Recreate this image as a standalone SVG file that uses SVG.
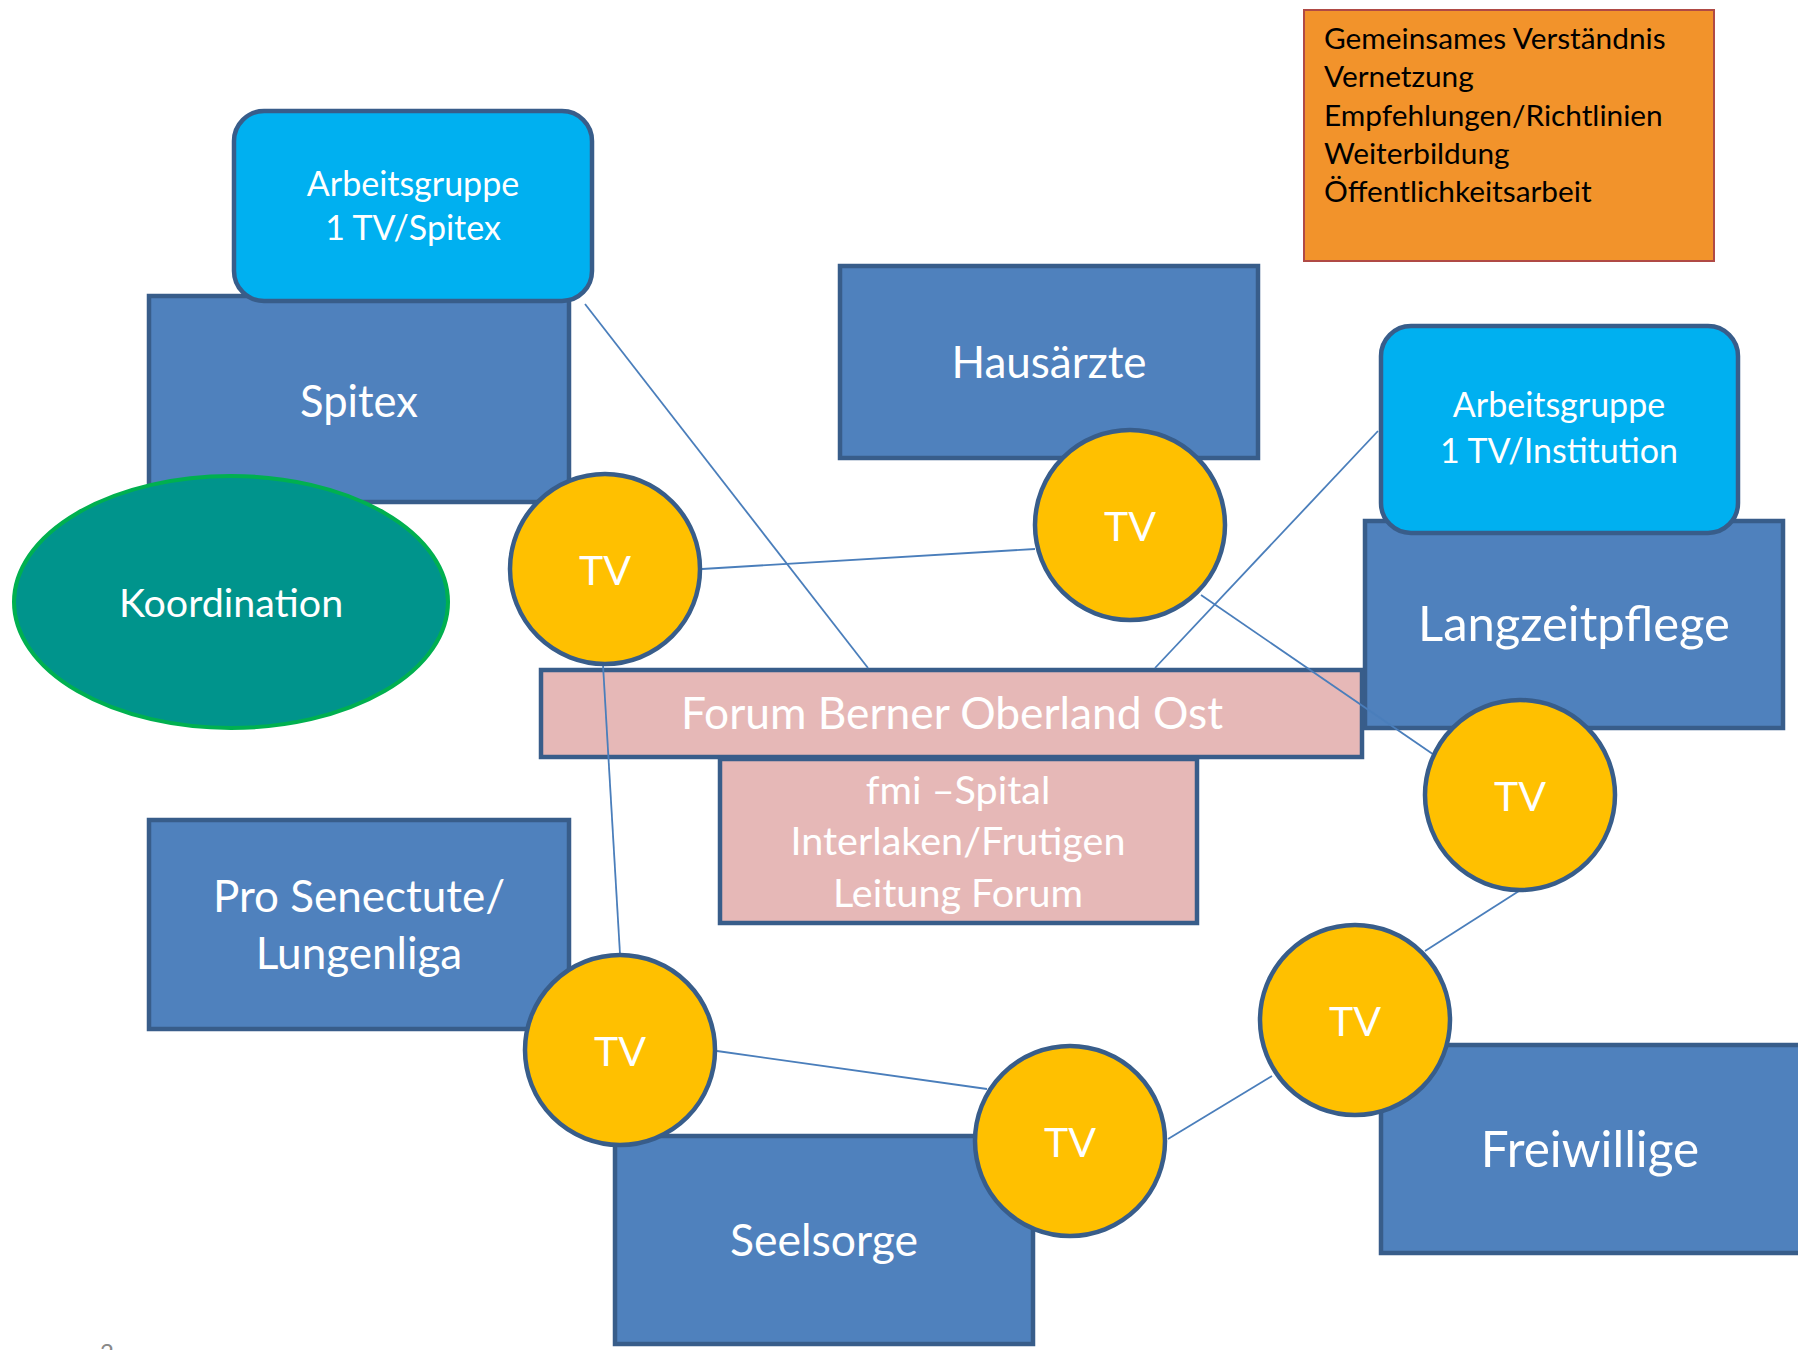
<svg xmlns="http://www.w3.org/2000/svg" width="1798" height="1350" viewBox="0 0 1798 1350">
<style>
.box{fill:#4F81BD;stroke:#385D8A;stroke-width:4.5}
.ag{fill:#00B0F0;stroke:#385D8A;stroke-width:4.5}
.tv{fill:#FFC000;stroke:#385D8A;stroke-width:4.5}
.pink{fill:#E6B8B7;stroke:#385D8A;stroke-width:4.5}
.conn line{stroke:#4A7EBB;stroke-width:1.8}
text{font-family:Lato,"Open Sans","DejaVu Sans",sans-serif;fill:#FFFFFF;text-anchor:middle}
.big{font-size:44px}
.tvt{font-size:41px}
.agt{font-size:34px}
.fmi{font-size:39.5px}
.list{font-size:29.8px;fill:#000000;text-anchor:start}
</style>
<rect width="1798" height="1350" fill="#FFFFFF"/>

<g id="info">
<rect x="1304" y="10" width="410" height="251" fill="#F2932B" stroke="#B04A45" stroke-width="2"/>
<text class="list" x="1324" y="49">Gemeinsames Verständnis</text>
<text class="list" x="1324" y="87">Vernetzung</text>
<text class="list" x="1324" y="126">Empfehlungen/Richtlinien</text>
<text class="list" x="1324" y="164">Weiterbildung</text>
<text class="list" x="1324" y="202">Öffentlichkeitsarbeit</text>
</g>

<g id="spitex">
<rect class="box" x="149" y="296" width="420" height="206"/>
<text class="big" x="359" y="417" style="font-size:43.5px">Spitex</text>
</g>
<g id="ag-spitex">
<rect class="ag" x="234" y="111" width="358" height="190" rx="30"/>
<text class="agt" x="413" y="196">Arbeitsgruppe</text>
<text class="agt" x="413" y="240">1 TV/Spitex</text>
</g>
<g id="koordination">
<ellipse cx="231" cy="602" rx="217" ry="126" fill="#00948C" stroke="#00B050" stroke-width="4"/>
<text x="231" y="617" style="font-size:39.4px">Koordination</text>
</g>
<g id="hausaerzte">
<rect class="box" x="840" y="266" width="418" height="192"/>
<text class="big" x="1049" y="378">Hausärzte</text>
</g>
<g id="langzeitpflege">
<rect class="box" x="1365" y="521" width="418" height="207"/>
<text class="big" x="1574" y="641" style="font-size:49px">Langzeitpflege</text>
</g>
<g id="ag-institution">
<rect class="ag" x="1381" y="326" width="357" height="207" rx="30"/>
<text class="agt" x="1559" y="417">Arbeitsgruppe</text>
<text class="agt" x="1559" y="463">1 TV/Institution</text>
</g>
<g id="forum">
<rect class="pink" x="541" y="670" width="821" height="87"/>
<text class="big" x="952" y="729" style="font-size:44.3px">Forum Berner Oberland Ost</text>
</g>
<g id="fmi">
<rect class="pink" x="720" y="759" width="477" height="164"/>
<text class="fmi" x="958" y="804">fmi –Spital</text>
<text class="fmi" x="958" y="855">Interlaken/Frutigen</text>
<text class="fmi" x="958" y="907">Leitung Forum</text>
</g>
<g id="pro-senectute">
<rect class="box" x="149" y="820" width="420" height="209"/>
<text class="big" x="359" y="912">Pro Senectute/</text>
<text class="big" x="359" y="969">Lungenliga</text>
</g>
<g id="seelsorge">
<rect class="box" x="615" y="1136" width="418" height="208"/>
<text class="big" x="824" y="1256" style="font-size:44.5px">Seelsorge</text>
</g>
<g id="freiwillige">
<rect class="box" x="1381" y="1045" width="422" height="208"/>
<text class="big" x="1590" y="1167" style="font-size:49.5px">Freiwillige</text>
</g>

<g id="connectors" class="conn">
<line x1="585" y1="304" x2="868" y2="668"/>
<line x1="702" y1="569" x2="1035" y2="549"/>
<line x1="1378" y1="431" x2="1155" y2="668"/>
<line x1="1201" y1="595" x2="1440" y2="759"/>
<line x1="603" y1="665" x2="620" y2="954"/>
<line x1="717" y1="1051" x2="987" y2="1089"/>
<line x1="1168" y1="1139" x2="1272" y2="1076"/>
<line x1="1425" y1="951" x2="1519" y2="891"/>
</g>

<g id="tv-spitex">
<circle class="tv" cx="605" cy="569" r="95"/>
<text class="tvt" x="605" y="585">TV</text>
</g>
<g id="tv-hausaerzte">
<circle class="tv" cx="1130" cy="525" r="95"/>
<text class="tvt" x="1130" y="541">TV</text>
</g>
<g id="tv-langzeitpflege">
<circle class="tv" cx="1520" cy="795" r="95"/>
<text class="tvt" x="1520" y="811">TV</text>
</g>
<g id="tv-pro-senectute">
<circle class="tv" cx="620" cy="1050" r="95"/>
<text class="tvt" x="620" y="1066">TV</text>
</g>
<g id="tv-seelsorge">
<circle class="tv" cx="1070" cy="1141" r="95"/>
<text class="tvt" x="1070" y="1157">TV</text>
</g>
<g id="tv-freiwillige">
<circle class="tv" cx="1355" cy="1020" r="95"/>
<text class="tvt" x="1355" y="1036">TV</text>
</g>

<text x="107" y="1361" style="font-size:24px;fill:#898989">2</text>
</svg>
